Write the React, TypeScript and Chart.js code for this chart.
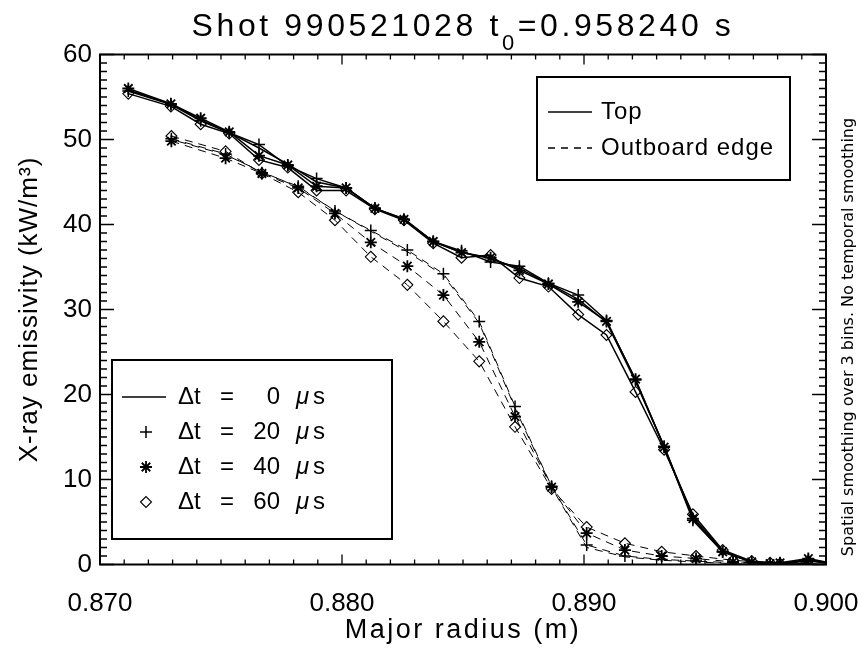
import React, { useEffect, useRef } from 'react';
import { Chart, registerables } from 'chart.js';

Chart.register(...registerables);

// ---------- data ----------
const topRadius = [0.87117, 0.87293, 0.87416, 0.87534, 0.87657, 0.87776, 0.87895, 0.88017, 0.88136, 0.88256, 0.88377, 0.88494, 0.88614, 0.88733, 0.88853, 0.88976, 0.89093, 0.89213, 0.89331, 0.8945, 0.89573, 0.89693, 0.8981, 0.89927, 0.9005];
const topDt0 = [55.8, 54.2, 52.3, 50.8, 49.0, 47.1, 45.0, 44.3, 41.9, 40.7, 38.0, 36.7, 36.0, 34.8, 33.1, 31.2, 28.5, 21.5, 13.9, 5.6, 1.6, 0.3, 0.1, 0.5, 0.0];
const topDt20 = [55.7, 54.1, 52.2, 50.8, 49.4, 46.9, 45.4, 44.3, 41.9, 40.6, 38.0, 36.9, 35.6, 35.1, 33.1, 31.7, 28.7, 21.7, 13.9, 5.2, 1.5, 0.3, 0.1, 0.6, 0.0];
const topDt40 = [56.0, 54.2, 52.5, 50.9, 48.1, 47.0, 44.5, 44.3, 41.9, 40.6, 38.0, 36.7, 36.1, 34.6, 33.0, 30.9, 28.6, 21.8, 13.8, 5.4, 1.5, 0.3, 0.2, 0.7, 0.0];
const topDt60 = [55.4, 53.9, 51.8, 50.7, 47.6, 46.7, 44.0, 44.0, 41.8, 40.5, 37.8, 36.1, 36.4, 33.7, 32.7, 29.4, 27.0, 20.3, 13.5, 5.9, 1.7, 0.4, 0.1, 0.4, 0.0];

const outRadius = [0.87295, 0.87519, 0.87669, 0.87819, 0.87971, 0.88119, 0.8827, 0.88419, 0.88567, 0.88715, 0.88866, 0.89011, 0.89169, 0.89321, 0.89463, 0.89616, 0.89769, 0.89917, 0.9005];
const outDt0 = [50.0, 48.2, 46.2, 44.4, 41.6, 39.2, 36.8, 34.0, 28.4, 18.4, 9.1, 2.0, 0.9, 0.5, 0.3, 0.1, 0.0, 0.0, 0.0];
const outDt20 = [50.1, 48.3, 46.1, 44.5, 41.6, 39.3, 37.0, 34.2, 28.6, 18.6, 9.2, 2.3, 1.0, 0.6, 0.4, 0.2, 0.1, 0.0, 0.0];
const outDt40 = [49.8, 47.8, 46.0, 44.3, 41.3, 37.9, 35.1, 31.7, 26.2, 17.4, 9.1, 3.7, 1.7, 1.0, 0.7, 0.3, 0.1, 0.1, 0.0];
const outDt60 = [50.4, 48.6, 46.0, 43.8, 40.5, 36.2, 32.9, 28.6, 23.9, 16.2, 8.9, 4.4, 2.5, 1.5, 1.0, 0.5, 0.2, 0.1, 0.0];

const xTickValues = [0.87, 0.88, 0.89, 0.9];
const yTickValues = [0, 10, 20, 30, 40, 50, 60];
const dtLabels = ['0', '20', '40', '60'];
const regionLabels = ['Top', 'Outboard edge'];

const titleMain = 'Shot 990521028 t';
const titleSub = '0';
const titleRest = '=0.958240 s';
const xTitle = 'Major radius (m)';
const yTitle = 'X-ray emissivity (kW/m\u00B3)';
const sideNote = 'Spatial smoothing over 3 bins. No temporal smoothing';

const FONT = "'Liberation Sans', Arial, sans-serif";
const markerStyles: any[] = [false, 'cross', 'star', 'rectRot'];
const markerRadius = [0, 6, 6, 5.5];
const markerWidth = [0, 1.5, 1.8, 1.1];

function pts(xs: number[], ys: number[]) {
  return xs.map((x, i) => ({ x, y: ys[i] }));
}

function drawMarker(ctx: CanvasRenderingContext2D, kind: number, x: number, y: number) {
  const r = markerRadius[kind];
  ctx.save();
  ctx.lineWidth = markerWidth[kind];
  ctx.strokeStyle = '#000';
  ctx.beginPath();
  if (kind === 1 || kind === 2) {
    ctx.moveTo(x - r, y); ctx.lineTo(x + r, y);
    ctx.moveTo(x, y - r); ctx.lineTo(x, y + r);
    if (kind === 2) {
      const d = r * Math.SQRT1_2;
      ctx.moveTo(x - d, y - d); ctx.lineTo(x + d, y + d);
      ctx.moveTo(x - d, y + d); ctx.lineTo(x + d, y - d);
    }
  } else if (kind === 3) {
    ctx.moveTo(x - r, y); ctx.lineTo(x, y - r); ctx.lineTo(x + r, y); ctx.lineTo(x, y + r); ctx.closePath();
  }
  ctx.stroke();
  ctx.restore();
}

function spacing(ctx: any, px: number) {
  ctx.letterSpacing = `${px}px`;
}

const decoPlugin = {
  id: 'deco',
  afterDatasetsDraw(chart: any) {
    const { ctx, chartArea: a } = chart;
    const xs = chart.scales.x;
    const ys = chart.scales.y;
    ctx.save();
    ctx.strokeStyle = '#000';
    ctx.fillStyle = '#000';

    // frame
    ctx.lineWidth = 2;
    ctx.strokeRect(a.left, a.top, a.right - a.left, a.bottom - a.top);

    // ticks on all four sides
    ctx.lineWidth = 1.3;
    ctx.beginPath();
    for (let i = 0; i <= 30; i++) {
      const v = 0.87 + i * 0.001;
      const px = xs.getPixelForValue(v);
      const len = i % 10 === 0 ? 10 : 5;
      ctx.moveTo(px, a.bottom); ctx.lineTo(px, a.bottom - len);
      ctx.moveTo(px, a.top); ctx.lineTo(px, a.top + len);
    }
    for (let v = 0; v <= 60; v++) {
      const py = ys.getPixelForValue(v);
      const len = v % 10 === 0 ? 14 : 7;
      ctx.moveTo(a.left, py); ctx.lineTo(a.left + len, py);
      ctx.moveTo(a.right, py); ctx.lineTo(a.right - len, py);
    }
    ctx.stroke();

    // title with subscript
    ctx.textBaseline = 'alphabetic';
    spacing(ctx, 3.6);
    ctx.font = `32px ${FONT}`;
    const w1 = ctx.measureText(titleMain).width;
    const w3 = ctx.measureText(titleRest).width;
    ctx.font = `22px ${FONT}`;
    const w2 = ctx.measureText(titleSub).width;
    const cx = (a.left + a.right) / 2;
    let tx = cx - (w1 + w2 + w3) / 2;
    ctx.textAlign = 'left';
    ctx.font = `32px ${FONT}`;
    ctx.fillText(titleMain, tx, 36);
    tx += w1;
    ctx.font = `22px ${FONT}`;
    ctx.fillText(titleSub, tx, 50);
    tx += w2;
    ctx.font = `32px ${FONT}`;
    ctx.fillText(titleRest, tx, 36);

    // axis titles
    ctx.font = `27px ${FONT}`;
    spacing(ctx, 2.5);
    ctx.textAlign = 'center';
    ctx.textBaseline = 'middle';
    ctx.fillText(xTitle, cx, 631);
    ctx.save();
    spacing(ctx, 1);
    ctx.font = `26px ${FONT}`;
    ctx.translate(30, (a.top + a.bottom) / 2);
    ctx.rotate(-Math.PI / 2);
    ctx.fillText(yTitle, 0, 0);
    ctx.restore();
    spacing(ctx, 0);

    // side note
    ctx.save();
    ctx.font = `16px 'DejaVu Sans', sans-serif`;
    ctx.translate(849, 337);
    ctx.rotate(-Math.PI / 2);
    ctx.fillText(sideNote, 0, 0);
    ctx.restore();

    // legend 1 (region)
    ctx.lineWidth = 2;
    ctx.fillStyle = '#fff';
    ctx.fillRect(537, 77, 253, 103);
    ctx.strokeRect(537, 77, 253, 103);
    ctx.fillStyle = '#000';
    const l1rows = [112, 148];
    ctx.font = `24px ${FONT}`;
    ctx.textAlign = 'left';
    spacing(ctx, 1);
    l1rows.forEach((ry, i) => {
      ctx.save();
      ctx.lineWidth = 1.5;
      if (i === 1) ctx.setLineDash([7, 6]);
      ctx.beginPath();
      ctx.moveTo(548, ry); ctx.lineTo(592, ry);
      ctx.stroke();
      ctx.restore();
      ctx.fillText(regionLabels[i], 601, ry);
    });
    spacing(ctx, 0);

    // legend 2 (time)
    ctx.lineWidth = 2;
    ctx.fillStyle = '#fff';
    ctx.fillRect(112, 360, 280, 179);
    ctx.strokeRect(112, 360, 280, 179);
    ctx.fillStyle = '#000';
    const l2rows = [397, 432, 467, 502];
    l2rows.forEach((ry, i) => {
      if (i === 0) {
        ctx.save();
        ctx.lineWidth = 1.5;
        ctx.beginPath();
        ctx.moveTo(122, ry); ctx.lineTo(166, ry);
        ctx.stroke();
        ctx.restore();
      } else {
        drawMarker(ctx, i, 146, ry);
      }
      ctx.font = `24px ${FONT}`;
      ctx.textAlign = 'left';
      ctx.fillText('\u0394t', 178, ry);
      ctx.fillText('=', 220, ry);
      ctx.textAlign = 'right';
      ctx.fillText(dtLabels[i], 280, ry);
      ctx.textAlign = 'left';
      ctx.font = `italic 24px ${FONT}`;
      ctx.fillText('\u03BC', 296, ry);
      ctx.font = `24px ${FONT}`;
      ctx.fillText('s', 313, ry);
    });

    ctx.restore();
  },
};

function makeSet(xs: number[], ys: number[], k: number, dashed: boolean, dashOffset = 0) {
  return {
    data: pts(xs, ys),
    showLine: true,
    borderColor: '#000',
    backgroundColor: 'rgba(0,0,0,0)',
    borderWidth: dashed ? 1 : 1.5,
    borderDash: dashed ? [8, 6] : [],
    borderDashOffset: dashOffset,
    pointStyle: markerStyles[k],
    pointRadius: markerRadius[k],
    pointBorderWidth: markerWidth[k],
    pointBorderColor: '#000',
    pointBackgroundColor: 'rgba(0,0,0,0)',
    tension: 0,
  };
}

export default function App() {
  const ref = useRef<HTMLCanvasElement>(null);
  useEffect(() => {
    const datasets = [
      makeSet(topRadius, topDt0, 0, false),
      makeSet(topRadius, topDt20, 1, false),
      makeSet(topRadius, topDt40, 2, false),
      makeSet(topRadius, topDt60, 3, false),
      makeSet(outRadius, outDt0, 0, true, 7),
      makeSet(outRadius, outDt20, 1, true),
      makeSet(outRadius, outDt40, 2, true),
      makeSet(outRadius, outDt60, 3, true),
    ];
    const chart = new Chart(ref.current as HTMLCanvasElement, {
      type: 'scatter',
      data: { datasets } as any,
      options: {
        responsive: false,
        animation: false,
        devicePixelRatio: 1,
        layout: { padding: { left: 0, top: 54.5, right: 40, bottom: 0 } },
        plugins: { legend: { display: false }, title: { display: false }, tooltip: { enabled: false } },
        scales: {
          x: {
            type: 'linear',
            min: 0.87,
            max: 0.9,
            grid: { display: false, drawTicks: true, tickLength: 22 },
            border: { display: false },
            afterBuildTicks: (s: any) => { s.ticks = xTickValues.map((v) => ({ value: v })); },
            ticks: {
              autoSkip: false,
              maxRotation: 0,
              padding: 2,
              color: '#000',
              font: { family: FONT, size: 26 },
              callback: (v: any) => Number(v).toFixed(3),
            },
            afterFit: (s: any) => { s.height = 90.5; },
          },
          y: {
            min: 0,
            max: 60,
            grid: { display: false, drawTicks: false },
            border: { display: false },
            afterBuildTicks: (s: any) => { s.ticks = yTickValues.map((v) => ({ value: v })); },
            ticks: {
              autoSkip: false,
              padding: 8,
              color: '#000',
              font: { family: FONT, size: 26 },
              callback: (v: any) => String(v),
            },
            afterFit: (s: any) => { s.width = 100; },
          },
        },
      } as any,
      plugins: [decoPlugin],
    });
    return () => chart.destroy();
  }, []);
  return (
    <div style={{ position: 'absolute', left: 0, top: 0, width: 866, height: 655, background: '#fff' }}>
      <canvas ref={ref} width={866} height={655} style={{ width: 866, height: 655, display: 'block' }} />
    </div>
  );
}
